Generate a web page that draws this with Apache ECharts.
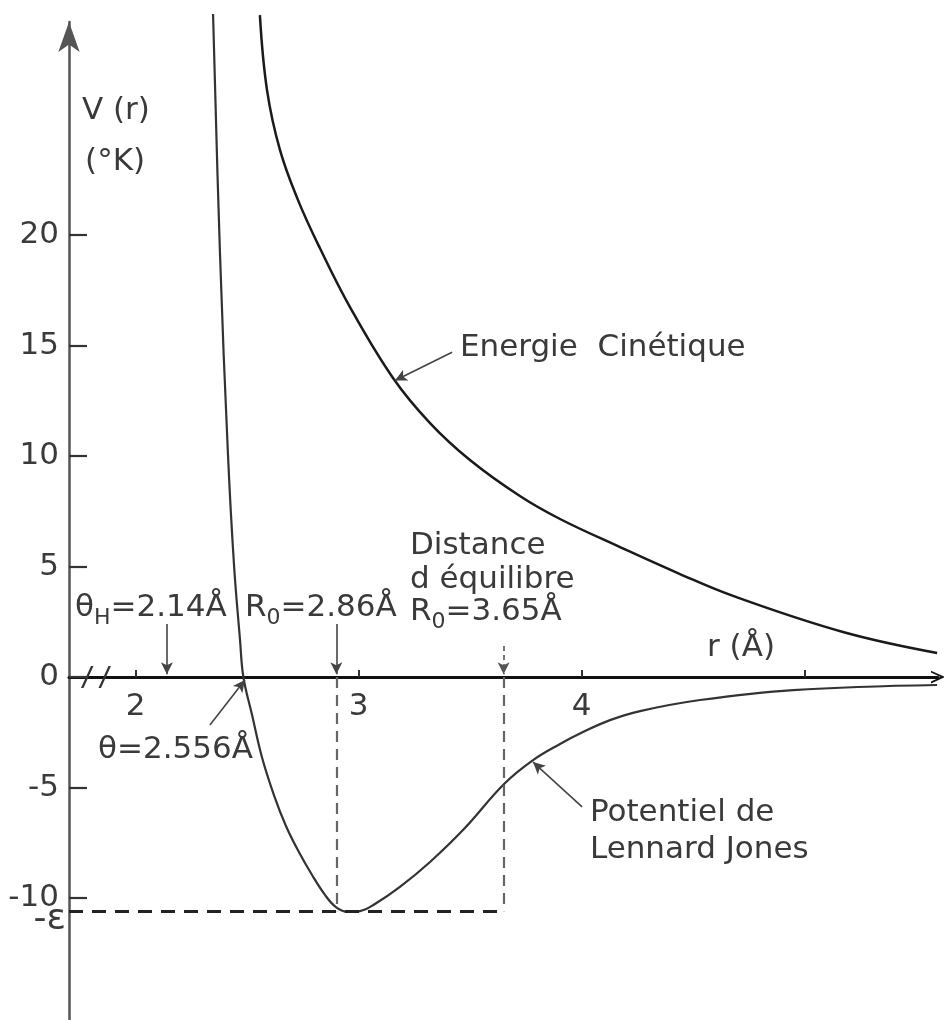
<!DOCTYPE html>
<html><head><meta charset="utf-8">
<script src="https://cdn.jsdelivr.net/npm/echarts@6/dist/echarts.min.js"></script>
<style>html,body{margin:0;padding:0;background:#fff}#c{width:944px;height:1020px}</style>
</head><body><div id="c"></div>
<script>
// ---- data ----
const rTicks = [2, 3, 4, 5];
const rTickLabels = [2, 3, 4];
const vTicks = [-10, -5, 0, 5, 10, 15, 20];
// Lennard-Jones potential (r in Å, V in K)
const ljR = [2.347, 2.378, 2.414, 2.441, 2.468, 2.483, 2.522, 2.566, 2.620, 2.674, 2.732, 2.791, 2.849, 2.898, 2.952, 3.006, 3.073, 3.185, 3.320, 3.472, 3.652, 3.782, 3.903, 4.006, 4.127, 4.262, 4.531, 4.948, 5.594];
const ljV = [30.0, 19.19, 10.05, 5.07, 1.67, 0.0, -1.72, -3.62, -5.34, -6.74, -7.92, -8.96, -9.86, -10.41, -10.63, -10.59, -10.27, -9.50, -8.37, -6.88, -4.84, -3.76, -3.03, -2.49, -1.95, -1.54, -1.04, -0.59, -0.36];
// Kinetic energy
const kinR = [2.557, 2.589, 2.647, 2.728, 2.826, 2.961, 3.154, 3.320, 3.499, 3.723, 3.903, 4.172, 4.441, 4.679, 5.172, 5.594];
const kinV = [29.95, 26.56, 23.85, 21.58, 19.41, 16.74, 13.53, 11.49, 9.82, 8.19, 7.15, 5.88, 4.66, 3.67, 2.04, 1.09];
// marked distances and well depth
const thetaH = 2.14, r0Classic = 2.90, r0Quantum = 3.65, epsilon = 10.6;

const xMin = 1.701, xMax = 5.598, yMin = -15.52, yMax = 29.64;
const FONT = 'DejaVu Sans';
const TXT = '#3a3a3a';

function pairs(a, b) { return a.map((x, i) => [x, b[i]]); }

const rich = {
  n: { fontSize: 31, fontFamily: FONT, color: TXT },
  s: { fontSize: 22, fontFamily: FONT, color: TXT, padding: [20, 0, 0, 0] }
};
function txt(r, v, text, pos, extra) {
  return {
    coord: [r, v], symbol: 'circle', symbolSize: 0,
    label: Object.assign({ show: true, position: pos || 'right', distance: 0, formatter: text,
      fontSize: 31, fontFamily: FONT, color: TXT, rich: rich }, extra || {})
  };
}
function tickLabel(r) {
  return {
    coord: [r, 0], symbol: 'circle', symbolSize: 0,
    label: { show: true, position: 'bottom', distance: 14, formatter: String(r),
      fontSize: 31, fontFamily: FONT, color: TXT }
  };
}
function seg(a, b, style, endSym) {
  return [
    { coord: a, symbol: 'none', lineStyle: style },
    { coord: b, symbol: endSym || 'none' }
  ];
}
const thin = { color: '#444', width: 1.6, type: 'solid' };
const vdash = { color: '#666', width: 2.2, type: [11, 7] };

const chart = echarts.init(document.getElementById('c'));
chart.setOption({
  animation: false,
  backgroundColor: '#fff',
  grid: { left: 69, right: 6, top: 22, bottom: 0, outerBoundsMode: 'none', containLabel: false },
  xAxis: {
    type: 'value', min: xMin, max: xMax,
    axisLine: { onZero: true, lineStyle: { color: '#111', width: 3 },
      symbol: ['none', 'path://M0,22 L10,0 L20,22 L17,22 L10,7 L3,22 Z'], symbolSize: [16, 14] },
    axisTick: { show: true, inside: true, length: 7, customValues: rTicks, lineStyle: { color: '#333', width: 2 } },
    axisLabel: { show: false },
    splitLine: { show: false }
  },
  yAxis: {
    type: 'value', min: yMin, max: yMax,
    axisLine: { show: true, onZero: false, lineStyle: { color: '#555', width: 2.5 },
      symbol: ['none', 'arrow'], symbolSize: [16, 30] },
    axisTick: { show: true, inside: true, length: 18, customValues: vTicks, lineStyle: { color: '#333', width: 2.2 } },
    axisLabel: { customValues: vTicks, margin: 10, fontSize: 31, fontFamily: FONT, color: TXT },
    splitLine: { show: false }
  },
  series: [
    {
      name: 'Potentiel de Lennard Jones', type: 'line', data: pairs(ljR, ljV),
      smooth: 0.4, showSymbol: false, clip: false,
      lineStyle: { color: '#333', width: 2.2 },
      markLine: {
        silent: true, symbolSize: [9, 12], label: { show: false },
        data: [
          seg([thetaH, 2.4], [thetaH, 0.12], thin, 'arrow'),
          seg([r0Classic, 2.4], [r0Classic, 0.12], thin, 'arrow'),
          seg([r0Quantum, 1.4], [r0Quantum, 0.12], { color: '#555', width: 1.6, type: [5, 4] }, 'arrow'),
          seg([r0Classic, 0], [r0Classic, -epsilon], vdash),
          seg([r0Quantum, 0], [r0Quantum, -epsilon], vdash),
          seg([xMin, -epsilon], [r0Quantum, -epsilon], { color: '#222', width: 3, type: [14, 9] }),
          seg([3.419, 14.7], [3.163, 13.42], thin, 'arrow'),
          seg([4.002, -5.88], [3.782, -3.85], thin, 'arrow'),
          seg([2.333, -2.17], [2.490, -0.14], thin, 'arrow')
        ]
      },
      markPoint: {
        silent: true,
        data: [
          txt(1.759, 25.6, 'V (r)'),
          txt(1.773, 23.3, '(°K)'),
          txt(3.454, 14.89, 'Energie  Cinétique'),
          txt(3.230, 5.93, 'Distance'),
          txt(3.230, 4.39, 'd équilibre'),
          txt(3.230, 2.94, '{n|R}{s|0}{n|=3.65Å}'),
          txt(1.728, 3.12, '{n|θ}{s|H}{n|=2.14Å}'),
          txt(2.490, 3.12, '{n|R}{s|0}{n|=2.86Å}'),
          txt(1.831, -3.30, 'θ=2.556Å'),
          txt(4.037, -6.15, 'Potentiel de'),
          txt(4.037, -7.83, 'Lennard Jones'),
          txt(4.562, 1.31, 'r (Å)'),
          txt(xMin, -epsilon, '-ε', 'left', { distance: 3, offset: [0, 8], fontSize: 36 }),
          ...rTickLabels.map(tickLabel),
          { coord: [1.822, 0], symbol: 'path://M0,24 L8,0 L10,0 L2,24 Z M14,24 L22,0 L24,0 L16,24 Z',
            symbolSize: [30, 22], itemStyle: { color: '#333' }, label: { show: false } }
        ]
      }
    },
    {
      name: 'Energie Cinétique', type: 'line', data: pairs(kinR, kinV),
      smooth: 0.4, showSymbol: false, clip: false,
      lineStyle: { color: '#1a1a1a', width: 2.5 }
    }
  ]
});
</script>
</body></html>
